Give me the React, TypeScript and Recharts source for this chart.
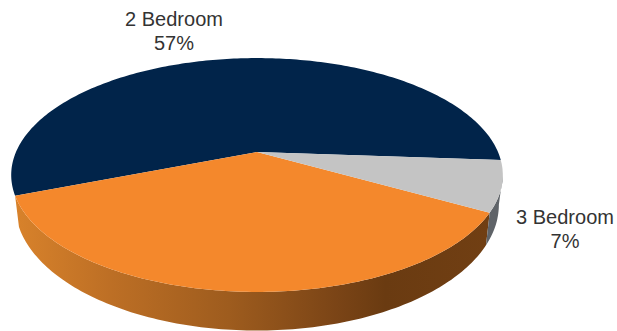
// Three-way unit mix split, drawn as a tilted pie with a perspective rim.
import { Cell, Pie, PieChart } from 'recharts';

const CATEGORIES = ['2 Bedroom', '1 Bedroom', '3 Bedroom'];
const SHARES = [57, 36, 7];
const rows = CATEGORIES.map((name, i) => ({ name, value: SHARES[i] }));

const NAVY = '#01244a';
const ORANGE = '#f4882c';
const SILVER = '#c4c4c4';
const TOP_COLORS = [NAVY, ORANGE, SILVER];
const WALL_FILLS: Record<string, string> = {
  [NAVY]: '#2c3f55',
  [ORANGE]: 'url(#orangeWall)',
  [SILVER]: '#5f6368',
};

// label anchors, the orange slice carries no label
const LABEL_AT: Record<string, { x: number; y: number }> = {
  '2 Bedroom': { x: 174, y: 26 },
  '3 Bedroom': { x: 565, y: 224 },
};

// projective tilt: far edge compressed, near edge stretched
const TILT = 0.4664;
const RIM_TILT = 0.51;
const SKEW = 0.1966;
const RIM_SCALE = 0.984;
const RIM_DROP = 28;
const FRONT_FROM = 180 + 11.3;
const FRONT_TO = 360 - 11.3;

const RAD = Math.PI / 180;

function project(cx: number, cy: number, r: number, tilt: number, deg: number) {
  const c = Math.cos(deg * RAD);
  const s = Math.sin(deg * RAD);
  const d = 1 + SKEW * s;
  return [cx + (r * c) / d, cy - (r * tilt * s) / d];
}

function arc(cx: number, cy: number, r: number, tilt: number, from: number, to: number) {
  const pts: number[][] = [];
  const steps = Math.max(2, Math.ceil(Math.abs(to - from)));
  for (let i = 0; i <= steps; i++) {
    pts.push(project(cx, cy, r, tilt, from + ((to - from) * i) / steps));
  }
  return pts;
}

const toPath = (pts: number[][]) =>
  pts.map((p, i) => `${i ? 'L' : 'M'}${p[0].toFixed(2)} ${p[1].toFixed(2)}`).join(' ') + ' Z';

function TiltedSlice(props: any) {
  const { cx, cy, outerRadius, startAngle, endAngle, fill } = props;
  const lo = Math.min(startAngle, endAngle);
  const hi = Math.max(startAngle, endAngle);
  // only the near side of the disc shows its rim
  const wallFrom = Math.max(lo, FRONT_FROM);
  const wallTo = Math.min(hi, FRONT_TO);
  const hasWall = lo >= 0 && wallTo > wallFrom;
  const top = [[cx, cy], ...arc(cx, cy, outerRadius, TILT, lo, hi)];
  return (
    <g>
      {hasWall && (
        <path
          d={toPath([
            ...arc(cx, cy, outerRadius, TILT, wallFrom, wallTo),
            ...arc(cx, cy + RIM_DROP, outerRadius * RIM_SCALE, RIM_TILT, wallTo, wallFrom),
          ])}
          fill={WALL_FILLS[fill]}
        />
      )}
      <path d={toPath(top)} fill={fill} />
    </g>
  );
}

function SliceLabel(props: any) {
  const at = LABEL_AT[props.name];
  if (!at) return null;
  return (
    <text textAnchor="middle" fontFamily="Liberation Sans, Arial, sans-serif" fontSize={20} fill="#333333">
      <tspan x={at.x} y={at.y}>{props.name}</tspan>
      <tspan x={at.x} dy={24}>{`${props.value}%`}</tspan>
    </text>
  );
}

export default function App() {
  return (
    <div style={{ position: 'absolute', left: 0, top: 0, width: 617, height: 331, background: '#fff' }}>
      <PieChart width={617} height={331} margin={{ top: 0, right: 0, bottom: 0, left: 0 }}>
        <defs>
          <linearGradient id="orangeWall" gradientUnits="userSpaceOnUse" x1={15} y1={0} x2={490} y2={0}>
            <stop offset="0%" stopColor="#d8822b" />
            <stop offset="20%" stopColor="#bd6f25" />
            <stop offset="45%" stopColor="#9e5c1e" />
            <stop offset="68%" stopColor="#7a4416" />
            <stop offset="78%" stopColor="#6a3b11" />
            <stop offset="100%" stopColor="#713f13" />
          </linearGradient>
        </defs>
        <Pie
          data={rows}
          dataKey="value"
          nameKey="name"
          cx={257}
          cy={152}
          outerRadius={241}
          startAngle={-4}
          endAngle={356}
          stroke="none"
          shape={TiltedSlice}
          label={SliceLabel}
          labelLine={false}
          isAnimationActive={false}
        >
          {rows.map((r, i) => (
            <Cell key={r.name} fill={TOP_COLORS[i]} />
          ))}
        </Pie>
      </PieChart>
    </div>
  );
}
